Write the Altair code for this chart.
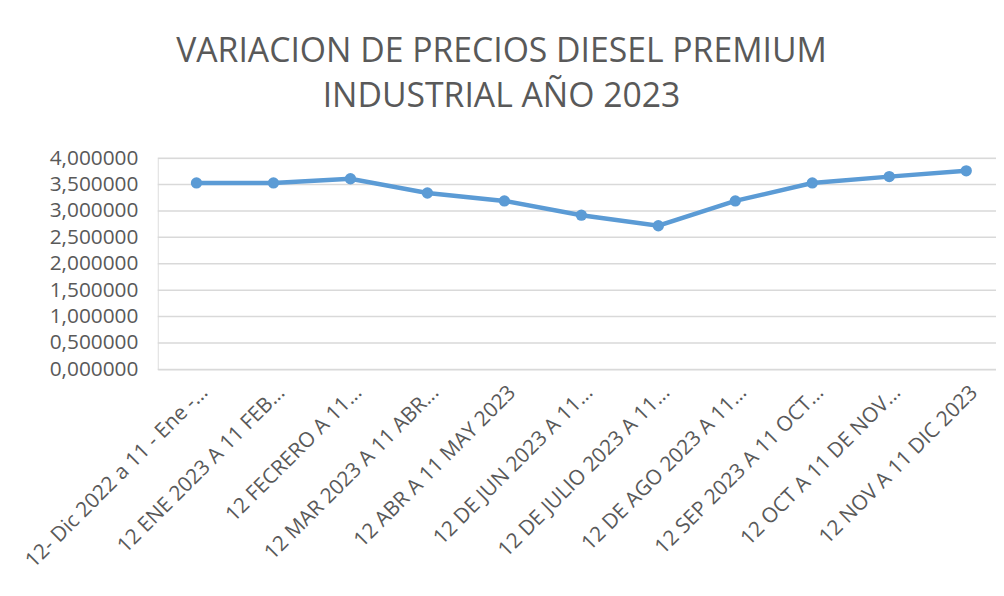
import altair as alt
import pandas as pd

categories = [
    "12- Dic 2022 a 11 - Ene -...",
    "12 ENE 2023 A 11 FEB...",
    "12 FECRERO A 11...",
    "12 MAR 2023 A  11 ABR...",
    "12 ABR A 11 MAY 2023",
    "12 DE JUN 2023 A 11...",
    "12 DE JULIO 2023 A 11...",
    "12 DE AGO 2023 A 11...",
    "12 SEP 2023 A 11 OCT...",
    "12 OCT A 11 DE NOV...",
    "12 NOV A 11 DIC 2023",
]
prices = [3.53, 3.53, 3.61, 3.34, 3.19, 2.92, 2.72, 3.19, 3.53, 3.65, 3.76]
y_ticks = [0, 0.5, 1, 1.5, 2, 2.5, 3, 3.5, 4]

df = pd.DataFrame({"periodo": categories, "precio": prices})
grid_df = pd.DataFrame({"tick": y_ticks})

gray = "#595959"
blue = "#5B9BD5"
W = 845
H = 213

x_enc = alt.X(
    "periodo:N",
    sort=categories,
    scale=alt.Scale(type="point", range=[39, 815], padding=0),
    axis=alt.Axis(
        title=None,
        labelAngle=-45,
        labelFontSize=21,
        labelColor=gray,
        labelFont="Open Sans",
        labelPadding=12,
        labelOverlap=False,
        ticks=False,
        domain=False,
        grid=False,
        labelLimit=400,
    ),
)
y_scale = alt.Scale(domain=[0, 4], nice=False)
y_axis = alt.Axis(
    title=None,
    values=y_ticks,
    labelExpr="replace(format(datum.value, '.6f'), '.', ',')",
    labelFontSize=21,
    labelColor=gray,
    labelFont="Open Sans",
    labelPadding=20,
    labelOverlap=False,
    labelSeparation=0,
    ticks=False,
    domain=False,
    grid=False,
)

grid = alt.Chart(grid_df).mark_rule(color="#d9d9d9", strokeWidth=1.5).encode(
    y=alt.Y("tick:Q", scale=y_scale, axis=y_axis),
    x=alt.value(0),
    x2=alt.value(W),
)

base = alt.Chart(df).encode(
    x=x_enc, y=alt.Y("precio:Q", scale=y_scale, axis=y_axis)
)
line = base.mark_line(color=blue, strokeWidth=4.5)
pts = base.mark_point(color=blue, filled=True, size=130, opacity=1)

chart = (
    alt.layer(grid, line, pts)
    .properties(
        width=W,
        height=H,
        padding={"left": 151, "top": 149, "right": 0, "bottom": 218},
        autosize=alt.AutoSizeParams(type="none"),
        title=alt.TitleParams(
            text=["VARIACION DE PRECIOS DIESEL PREMIUM", "INDUSTRIAL AÑO 2023"],
            font="Open Sans",
            fontSize=34,
            fontWeight="normal",
            color=gray,
            anchor="middle",
            dx=-76,
            offset=34,
            lineHeight=45,
        ),
    )
    .configure_view(stroke=None, strokeWidth=0)
    .configure(background="white")
)

chart.save("out.html", embed_options={"renderer": "svg", "actions": False})
